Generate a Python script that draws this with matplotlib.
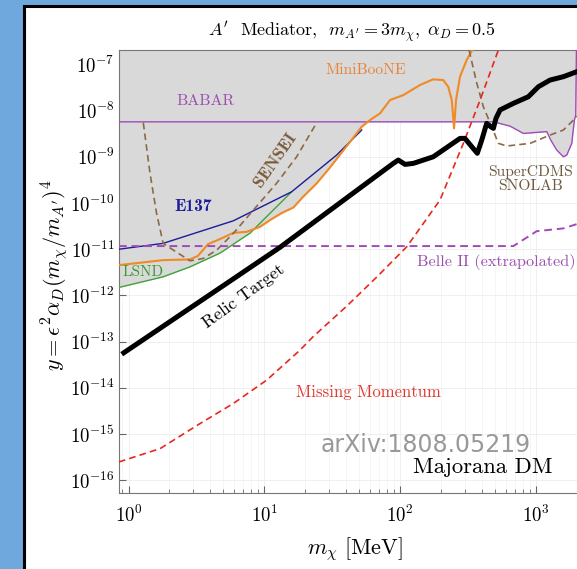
import numpy as np
import matplotlib
matplotlib.use("Agg")
import matplotlib.pyplot as plt
from matplotlib.patches import Rectangle

plt.rcParams['mathtext.fontset'] = 'cm'
plt.rcParams['font.family'] = 'serif'
plt.rcParams['font.serif'] = ['cmr10']
plt.rcParams['axes.formatter.use_mathtext'] = True
plt.rcParams['axes.unicode_minus'] = False

# --- data (m_chi in MeV, y) ---
babar_m = [0.85, 486, 645, 808, 1202, 1285, 1422, 1592, 1687, 1836, 1919, 1964, 1990, 2500]
babar_y = [5.7e-9, 5.7e-9, 4.6e-9, 3.2e-9, 3.5e-9, 2.3e-9, 1.4e-9, 1.0e-9, 1.09e-9,
           1.95e-9, 6.2e-9, 8.0e-9, 3e-7, 3e-7]

e137_m = [0.85, 1.80, 5.91, 15.9, 34.1, 52.1]
e137_y = [1.0e-11, 1.34e-11, 4.12e-11, 1.75e-10, 1.09e-9, 3.79e-9]

lsnd_m = [0.85, 1.80, 2.84, 4.72, 7.85, 15.9]
lsnd_y = [1.49e-12, 2.53e-12, 4.16e-12, 8.24e-12, 2.23e-11, 1.75e-10]

mb_m = [0.85, 1.80, 2.84, 3.25, 3.85, 4.72, 5.91, 7.42, 9.29, 11.0, 13.4, 16.4, 19.3,
        24.3, 30.5, 35.1, 42.8, 52.1, 60.0, 71.1, 84.3, 105.6, 140, 175, 208, 226,
        240, 249.5, 258, 276, 309, 388]
mb_y = [4.53e-12, 5.81e-12, 6.02e-12, 7.2e-12, 1.29e-11, 1.66e-11, 2.26e-11, 2.38e-11,
        3.05e-11, 4.26e-11, 6.04e-11, 8.03e-11, 1.36e-10, 2.66e-10, 5.9e-10, 1.0e-9,
        2.11e-9, 4.46e-9, 6.22e-9, 8.69e-9, 1.69e-8, 2.16e-8, 3.57e-8, 4.73e-8,
        4.57e-8, 3.27e-8, 1.69e-8, 4.12e-9, 1.69e-8, 5.4e-8, 1.24e-7, 4.0e-7]

sensei_m = [1.285, 1.44, 1.61, 1.80, 2.14, 2.84, 3.55, 4.46, 5.91, 8.30, 12.3, 17.3, 24.3]
sensei_y = [5.45e-9, 4.38e-10, 5.95e-11, 1.34e-11, 9.57e-12, 5.61e-12, 6.32e-12,
            9.57e-12, 2.2e-11, 7.02e-11, 2.66e-10, 1.0e-9, 5.45e-9]

cdms_m = [309, 367, 410, 473, 529, 610, 905, 1271, 1592, 1996, 2500]
cdms_y = [3.4e-7, 3.88e-8, 1.21e-8, 4.46e-9, 1.95e-9, 1.71e-9, 1.95e-9, 2.95e-9,
          3.79e-9, 7.3e-9, 1.5e-8]

belle_m = [0.85, 682, 1014, 1592, 1996, 2500]
belle_y = [1.17e-11, 1.17e-11, 2.46e-11, 2.82e-11, 3.49e-11, 4.5e-11]

relic_m = [0.891, 5.87, 13.1, 89.1, 97.0, 108.7, 125.1, 175.5, 276, 300, 337, 370, 399,
           434, 465, 486, 508, 544, 682, 879, 1042, 1271, 1592, 1996, 2500]
relic_y = [5.36e-14, 2.25e-12, 1.11e-11, 7.2e-10, 8.49e-10, 6.85e-10, 7.2e-10, 1.0e-9,
           2.5e-9, 2.5e-9, 1.65e-9, 1.19e-9, 2.3e-9, 5.28e-9, 4.46e-9, 4.12e-9, 6.78e-9,
           1.03e-8, 1.43e-8, 1.99e-8, 3.27e-8, 4.57e-8, 5.4e-8, 6.92e-8, 8.5e-8]

mm_m = [0.85, 1.71, 3.36, 5.91, 10.4, 18.3, 22.8, 40.4, 67.2, 111.9, 196.6, 292, 388, 529]
mm_y = [2.5e-16, 4.87e-16, 1.69e-15, 4.6e-15, 1.47e-14, 6.55e-14, 1.27e-13, 5.86e-13,
        2.49e-12, 1.13e-11, 1.16e-10, 1.95e-9, 1.69e-8, 2.04e-7]

W, H = 577, 569
fig = plt.figure(figsize=(W / 100, H / 100), dpi=100, facecolor='#6fa8dc')
fig.add_artist(Rectangle((23.5 / W, -0.05), 1.1, 563.5 / H + 0.05,
                         transform=fig.transFigure, facecolor='white',
                         edgecolor='black', linewidth=2.2, zorder=-5))

ax = fig.add_axes([119.3 / W, 75.7 / H, (590 - 119.3) / W, (519 - 75.7) / H])
ax.set_xscale('log')
ax.set_yscale('log')
ax.set_xlim(0.8555, 2501)
ax.set_ylim(10 ** -16.28, 10 ** -6.69)

# shaded excluded region: lower envelope of existing limits
grid = np.logspace(np.log10(0.8555), np.log10(2500), 1200)


def on_grid(ms, ys):
    return 10 ** np.interp(np.log10(grid), np.log10(ms), np.log10(ys),
                           left=np.nan, right=np.nan)


env = np.nanmin(np.vstack([on_grid(babar_m, babar_y), on_grid(e137_m, e137_y),
                           on_grid(lsnd_m, lsnd_y), on_grid(mb_m, mb_y)]), axis=0)
ax.fill_between(grid, env, 1e-5, color='#d9d9d9', lw=0, zorder=1)

ax.plot(babar_m, babar_y, color='#a04ab8', lw=1.0, zorder=3)
ax.plot(lsnd_m, lsnd_y, color='#3fa33a', lw=1.0, zorder=3)
ax.plot(e137_m, e137_y, color='#1c1c9a', lw=1.0, zorder=3)
ax.plot(mb_m, mb_y, color='#f08a24', lw=1.5, zorder=3)
ax.plot(sensei_m, sensei_y, color='#8b6a45', lw=1.2, dashes=(4, 2.5), zorder=3)
ax.plot(cdms_m, cdms_y, color='#8b6a45', lw=1.2, dashes=(4, 2.5), zorder=3)
ax.plot(belle_m, belle_y, color='#a04ab8', lw=1.4, dashes=(4, 2.5), zorder=3)
ax.plot(mm_m, mm_y, color='#e8281e', lw=1.2, dashes=(4, 2.5), zorder=3)
ax.plot(relic_m, relic_y, color='black', lw=3.6, zorder=4, solid_capstyle='butt')

# labels
ax.text(3.72, 1.61e-8, 'BABAR', color='#9b4fb0', fontsize=11.5, ha='center', va='center')
ax.text(56.1, 7.5e-8, 'MiniBooNE', color='#e8843a', fontsize=11.2, ha='center', va='center')
ax.text(12.0, 8.5e-10, 'SENSEI', color='#7a5a3a', fontsize=12.5, family='cmb10',
        ha='center', va='center', rotation=55)
ax.text(3.0, 8.3e-11, 'E137', color='#1c1c9a', fontsize=12.5, family='cmb10',
        ha='center', va='center')
ax.text(1.285, 3.24e-12, 'LSND', color='#3a9a30', fontsize=11, ha='center', va='center')
ax.text(7.09, 9.7e-13, 'Relic Target', color='black', fontsize=12.8, ha='center',
        va='center', rotation=36)
ax.text(912, 3.29e-10, 'SuperCDMS\nSNOLAB', color='#6e5a40', fontsize=11.2, ha='center',
        va='center', linespacing=1.1)
ax.text(508, 5.34e-12, 'Belle II (extrapolated)', color='#9b4fb0', fontsize=11.7,
        ha='center', va='center')
ax.text(58.5, 8.2e-15, 'Missing Momentum', color='#e03a30', fontsize=12, ha='center',
        va='center')
ax.text((426 - 119.3) / (590 - 119.3), (493.3 - 445) / 443.3, 'arXiv:1808.05219',
        transform=ax.transAxes, color='#999999', fontsize=17, family='DejaVu Sans',
        ha='center', va='center', zorder=5)
ax.text((482.5 - 119.3) / (590 - 119.3), (493.3 - 467) / 443.3, 'Majorana DM',
        transform=ax.transAxes, color='black', fontsize=16.3, ha='center', va='center',
        zorder=5)

fig.text(352 / W, 1 - 32 / H,
         r"$A'$  Mediator,  $m_{A'} = 3m_\chi,\ \alpha_D = 0.5$",
         fontsize=13, ha='center', va='center')
ax.set_xlabel(r'$m_\chi\ [\mathrm{MeV}]$', fontsize=16, labelpad=7)
fig.text(55 / W, 1 - 275 / H, r"$y = \epsilon^2\alpha_D(m_\chi/m_{A'})^4$",
         fontsize=16, rotation=90, ha='center', va='center')

# axes styling
for s in ['left', 'bottom', 'top']:
    ax.spines[s].set_color('#777777')
ax.spines['right'].set_visible(False)
ax.set_yticks([10.0 ** k for k in range(-16, -6)])
ax.yaxis.set_minor_locator(matplotlib.ticker.NullLocator())
ax.tick_params(which='both', direction='in', colors='#666666', labelcolor='black',
               labelsize=13.5)
ax.tick_params(which='major', length=5)
ax.tick_params(which='minor', length=3)
ax.tick_params(axis='x', pad=8)
ax.grid(True, which='major', color='#ececec', lw=0.6, zorder=0)
ax.grid(True, which='minor', axis='x', color='#f2f2f2', lw=0.5, zorder=0)
ax.set_axisbelow(True)

fig.savefig('out.png', dpi=100, facecolor=fig.get_facecolor())
